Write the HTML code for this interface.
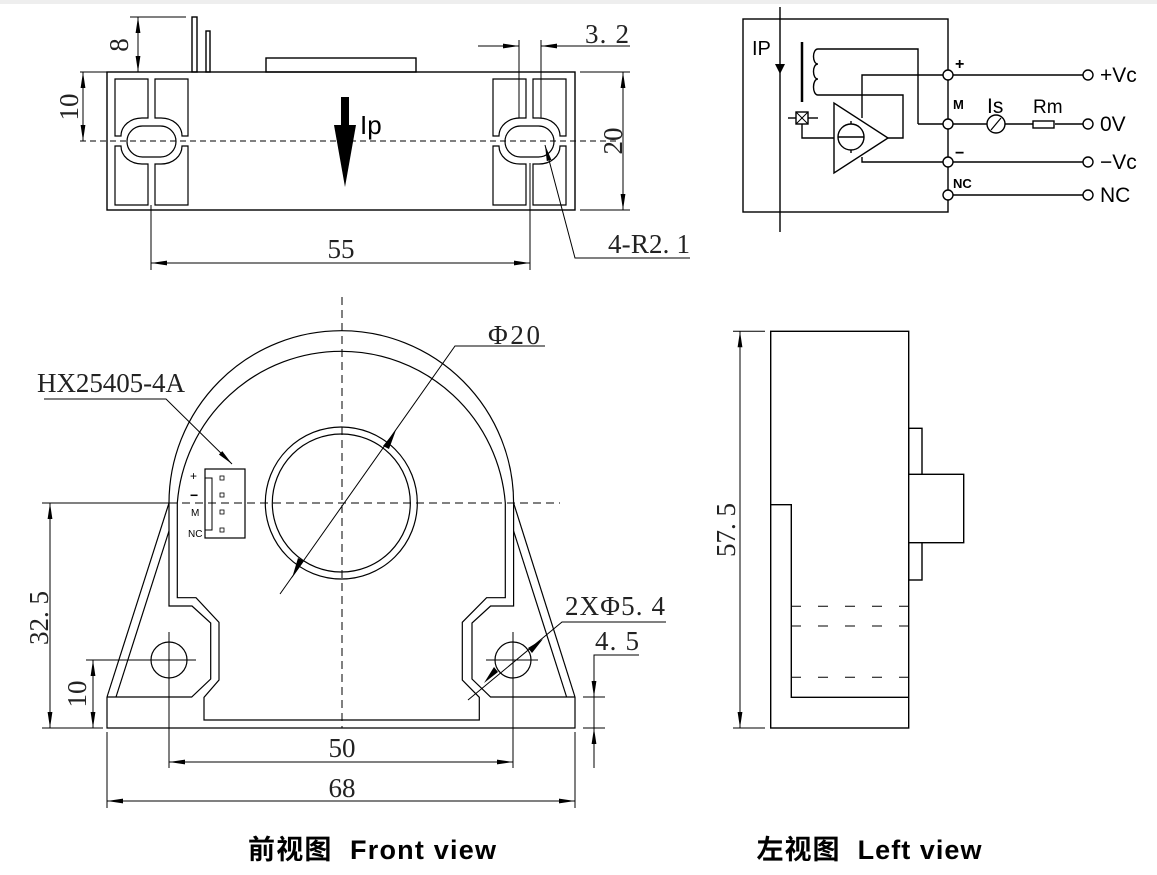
<!DOCTYPE html>
<html><head><meta charset="utf-8"><style>
html,body{margin:0;padding:0;background:#fff;}
svg{display:block;}
.d{font-family:"Liberation Serif",serif;font-size:27px;fill:#222;}
.s{font-family:"Liberation Sans",sans-serif;fill:#000;}
</style></head><body>
<svg width="1157" height="875" viewBox="0 0 1157 875" xmlns="http://www.w3.org/2000/svg">
<defs>
<marker id="a" viewBox="0 0 16 6" refX="16" refY="3" markerWidth="16" markerHeight="6" markerUnits="userSpaceOnUse" orient="auto-start-reverse"><path d="M0,0.6 L16,3 L0,5.4z" fill="#000"/></marker>
</defs>
<rect x="0" y="0" width="1157" height="4" fill="#eee"/>
<g fill="none" stroke="#000" stroke-width="1.4">
<!-- ===== TOP VIEW ===== -->
<rect x="107" y="72" width="468" height="138"/>
<rect x="266" y="58" width="150" height="14"/>
<rect x="192" y="17" width="5" height="55"/>
<rect x="206" y="31" width="4" height="41"/>
<line x1="130" y1="17" x2="186" y2="17" stroke-width="1"/>
<line x1="138" y1="17" x2="138" y2="72" stroke-width="1" marker-start="url(#a)" marker-end="url(#a)"/>
<line x1="80" y1="72" x2="107" y2="72" stroke-width="1"/>
<line x1="83" y1="72" x2="83" y2="141" stroke-width="1" marker-start="url(#a)" marker-end="url(#a)"/>
<line x1="80" y1="141" x2="620" y2="141" stroke-width="1" stroke-dasharray="6,4"/>
<line x1="580" y1="72" x2="630" y2="72" stroke-width="1"/>
<line x1="580" y1="210" x2="630" y2="210" stroke-width="1"/>
<line x1="623" y1="72" x2="623" y2="210" stroke-width="1" marker-start="url(#a)" marker-end="url(#a)"/>
<g id="slot">
<path d="M148,118 V79 H115 V136 H121 C121,126 130,118 142,118 Z" stroke-width="1.2"/>
<path d="M155,118 V79 H188 V136 H182 C182,126 173,118 161,118 Z" stroke-width="1.2"/>
<path d="M148,164 V205 H115 V146 H121 C121,156 130,164 142,164 Z" stroke-width="1.2"/>
<path d="M155,164 V205 H188 V146 H182 C182,156 173,164 161,164 Z" stroke-width="1.2"/>
<rect x="127" y="126" width="49" height="31" rx="15.5" stroke-width="1.2"/>
</g>
<use href="#slot" transform="translate(378,0)"/>
<line x1="519" y1="40" x2="519" y2="118" stroke-width="1"/>
<line x1="541" y1="40" x2="541" y2="118" stroke-width="1"/>
<line x1="478" y1="46" x2="519" y2="46" stroke-width="1" marker-end="url(#a)"/>
<line x1="630" y1="46" x2="541" y2="46" stroke-width="1" marker-end="url(#a)"/>
<line x1="151" y1="205" x2="151" y2="270" stroke-width="1"/>
<line x1="530" y1="163" x2="530" y2="270" stroke-width="1"/>
<line x1="151" y1="263" x2="530" y2="263" stroke-width="1" marker-start="url(#a)" marker-end="url(#a)"/>
<polyline points="690,258 575,258 545,145" stroke-width="1" marker-end="url(#a)"/>
</g>
<rect x="341" y="97" width="8" height="40" fill="#000"/>
<polygon points="334,125 356,125 345,187" fill="#000"/>
<text class="s" x="360" y="134" font-size="26">Ip</text>
<text class="d" transform="translate(128,45) rotate(-90)" text-anchor="middle">8</text>
<text class="d" transform="translate(78,107) rotate(-90)" text-anchor="middle">10</text>
<text class="d" transform="translate(622,141) rotate(-90)" text-anchor="middle">20</text>
<text class="d" x="585" y="43" textLength="44">3. 2</text>
<text class="d" x="341" y="258" text-anchor="middle">55</text>
<text class="d" x="608" y="253" textLength="82">4-R2. 1</text>

<!-- ===== CIRCUIT ===== -->
<g fill="none" stroke="#000" stroke-width="1.4">
<rect x="743" y="19" width="205" height="193"/>
<line x1="780" y1="7" x2="780" y2="232"/>
<line x1="802" y1="42" x2="802" y2="102" stroke-width="2.5"/>
<path d="M918,124 V49 H818 C812,49 812,64 818,64 C812,64 812,79 818,79 C812,79 812,95 818,95 H903 V138 H888"/>
<polygon points="834,103 834,173 888,138"/>
<circle cx="851" cy="137" r="13"/>
<line x1="838" y1="137" x2="864" y2="137"/>
<line x1="851" y1="121" x2="851" y2="124"/><line x1="851" y1="150" x2="851" y2="153"/>
<polyline points="862,118 862,75 948,75"/>
<polyline points="862,157 862,162 948,162"/>
<line x1="918" y1="124" x2="948" y2="124"/>
<rect x="796" y="112" width="12" height="12"/>
<line x1="796" y1="112" x2="808" y2="124" stroke-width="1"/><line x1="808" y1="112" x2="796" y2="124" stroke-width="1"/>
<line x1="788" y1="118" x2="796" y2="118"/><line x1="808" y1="118" x2="818" y2="118"/>
<polyline points="802,124 802,138 834,138"/>
<line x1="948" y1="75" x2="1083" y2="75"/>
<line x1="948" y1="124" x2="987" y2="124"/><line x1="1005" y1="124" x2="1033" y2="124"/><line x1="1055" y1="124" x2="1083" y2="124"/>
<line x1="948" y1="162" x2="1083" y2="162"/>
<line x1="948" y1="195" x2="1083" y2="195"/>
<g fill="#fff">
<circle cx="948" cy="75" r="5"/><circle cx="948" cy="124" r="5"/><circle cx="948" cy="162" r="5"/><circle cx="948" cy="195" r="5"/>
<circle cx="1088" cy="75" r="5"/><circle cx="1088" cy="124" r="5"/><circle cx="1088" cy="162" r="5"/><circle cx="1088" cy="195" r="5"/>
<circle cx="996" cy="124" r="9"/>
<rect x="1033" y="121" width="21" height="7"/>
</g>
<line x1="991" y1="130" x2="1001" y2="118" stroke-width="1.2"/>
</g>
<polygon points="775,64 785,64 780,74" fill="#000"/>
<text class="s" x="752" y="55" font-size="20">IP</text>
<text class="s" x="955" y="69" font-size="16" font-weight="bold">+</text>
<text class="s" x="953" y="109" font-size="13" font-weight="bold">M</text>
<text class="s" x="955" y="158" font-size="16" font-weight="bold">−</text>
<text class="s" x="953" y="188" font-size="13" font-weight="bold">NC</text>
<text class="s" x="1100" y="82" font-size="21">+Vc</text>
<text class="s" x="1100" y="131" font-size="21">0V</text>
<text class="s" x="1100" y="169" font-size="21">−Vc</text>
<text class="s" x="1100" y="202" font-size="21">NC</text>
<text class="s" x="987" y="113" font-size="21">Is</text>
<text class="s" x="1033" y="113" font-size="19">Rm</text>

<!-- ===== FRONT VIEW ===== -->
<g fill="none" stroke="#000" stroke-width="1.2">
<path d="M169,503 A172,172 0 0 1 513.6,503"/>
<path d="M177.3,503 A164.5,164.5 0 0 1 505.3,503"/>
<circle cx="341.3" cy="503" r="76"/>
<circle cx="341.3" cy="503" r="69"/>
<path d="M169,503 V606 H192 L210.7,623 V679 L191.7,697 H107"/>
<path d="M513.6,503 V606 H490.6 L472,623 V679 L490.6,697 H575"/>
<path d="M177.3,503 V597.7 H196 L219,622.3 V680 L204,697.3 V720 H479.3 V697.3 L462.3,680 V622.3 L486.6,597.7 H505.3 V503"/>
<line x1="107" y1="697" x2="169" y2="503"/>
<line x1="116" y1="697" x2="169" y2="531"/>
<line x1="575" y1="697" x2="513.6" y2="503"/>
<line x1="566.6" y1="697" x2="513.6" y2="531"/>
<polyline points="107,697 107,728 575,728 575,697"/>
<circle cx="169" cy="660" r="18"/>
<circle cx="513" cy="660" r="18"/>
<line x1="150" y1="660" x2="196" y2="660" stroke-width="1"/>
<line x1="169" y1="632" x2="169" y2="768" stroke-width="1"/>
<line x1="486" y1="660" x2="538" y2="660" stroke-width="1"/>
<line x1="513" y1="632" x2="513" y2="768" stroke-width="1"/>
<line x1="342" y1="297" x2="342" y2="728" stroke-width="1" stroke-dasharray="8,5"/>
<line x1="169" y1="503" x2="560" y2="503" stroke-width="1" stroke-dasharray="8,5"/>
<rect x="205" y="469" width="40" height="69"/>
<polyline points="205,478 212,478 212,530 205,530" stroke-width="1"/>
<rect x="220" y="476" width="4" height="4" stroke-width="0.8"/>
<rect x="220" y="493" width="4" height="4" stroke-width="0.8"/>
<rect x="220" y="510" width="4" height="4" stroke-width="0.8"/>
<rect x="220" y="528" width="4" height="4" stroke-width="0.8"/>
<polyline points="44,399 166,399 232,464" stroke-width="1" marker-end="url(#a)"/>
<polyline points="545,346 455,346 280,594" stroke-width="1"/>
<polyline points="666,622 562,622 468,700" stroke-width="1"/>
<line x1="42" y1="503" x2="169" y2="503" stroke-width="1"/>
<line x1="42" y1="728" x2="103" y2="728" stroke-width="1"/>
<line x1="50" y1="503" x2="50" y2="728" stroke-width="1" marker-start="url(#a)" marker-end="url(#a)"/>
<line x1="86" y1="660" x2="150" y2="660" stroke-width="1"/>
<line x1="93" y1="660" x2="93" y2="728" stroke-width="1" marker-start="url(#a)" marker-end="url(#a)"/>
<line x1="169" y1="762" x2="513" y2="762" stroke-width="1" marker-start="url(#a)" marker-end="url(#a)"/>
<line x1="107" y1="732" x2="107" y2="808" stroke-width="1"/>
<line x1="575" y1="732" x2="575" y2="808" stroke-width="1"/>
<line x1="107" y1="801" x2="575" y2="801" stroke-width="1" marker-start="url(#a)" marker-end="url(#a)"/>
<line x1="583" y1="697" x2="605" y2="697" stroke-width="1"/>
<line x1="583" y1="728" x2="605" y2="728" stroke-width="1"/>
<polyline points="639,655 594,655 594,697" stroke-width="1" marker-end="url(#a)"/>
<line x1="594" y1="768" x2="594" y2="728" stroke-width="1" marker-end="url(#a)"/>
<line x1="594" y1="697" x2="594" y2="728" stroke-width="1"/>
</g>
<polygon points="396,430 383,446 389,449" fill="#000"/>
<polygon points="292,578 304,561 298,558" fill="#000"/>
<polygon points="543,639 528,648 532,653" fill="#000"/>
<polygon points="484,683 498,672 494,667" fill="#000"/>
<text class="s" x="190" y="480" font-size="12">+</text>
<text class="s" x="190" y="500" font-size="14" font-weight="bold">−</text>
<text class="s" x="191" y="516" font-size="10">M</text>
<text class="s" x="188" y="537" font-size="10">NC</text>
<text class="d" x="37" y="392" textLength="148">HX25405-4A</text>
<text class="d" x="488" y="344" textLength="52">Φ20</text>
<text class="d" x="565" y="615" textLength="100">2XΦ5. 4</text>
<text class="d" x="595" y="650" textLength="44">4. 5</text>
<text class="d" transform="translate(48,618) rotate(-90)" text-anchor="middle">32. 5</text>
<text class="d" transform="translate(86,694) rotate(-90)" text-anchor="middle">10</text>
<text class="d" x="342" y="757" text-anchor="middle">50</text>
<text class="d" x="342" y="797" text-anchor="middle">68</text>

<!-- ===== LEFT VIEW ===== -->
<g fill="none" stroke="#000" stroke-width="1.4">
<rect x="770.7" y="331.3" width="138" height="396.7"/>
<polyline points="770.7,504.7 791.3,504.7 791.3,697.3 908.7,697.3"/>
<rect x="908.7" y="428.3" width="13.3" height="151.7"/>
<rect x="908.7" y="474.3" width="55" height="68.4" fill="#fff"/>
<g stroke-width="1" stroke-dasharray="10,17">
<line x1="791" y1="606.3" x2="908" y2="606.3"/>
<line x1="791" y1="626" x2="908" y2="626"/>
<line x1="791" y1="677.3" x2="908" y2="677.3"/>
</g>
<line x1="733" y1="331.3" x2="765" y2="331.3" stroke-width="1"/>
<line x1="733" y1="728" x2="765" y2="728" stroke-width="1"/>
<line x1="740" y1="331.3" x2="740" y2="728" stroke-width="1" marker-start="url(#a)" marker-end="url(#a)"/>
</g>
<text class="d" transform="translate(735,530) rotate(-90)" text-anchor="middle">57. 5</text>

<text x="372" y="859" font-size="27" font-weight="bold" text-anchor="middle" textLength="248" style="font-family:'Liberation Sans','Noto Sans CJK SC',sans-serif;white-space:pre">前视图  Front view</text>
<text x="869" y="859" font-size="27" font-weight="bold" text-anchor="middle" textLength="225" style="font-family:'Liberation Sans','Noto Sans CJK SC',sans-serif;white-space:pre">左视图  Left view</text>
</svg>
</body></html>
